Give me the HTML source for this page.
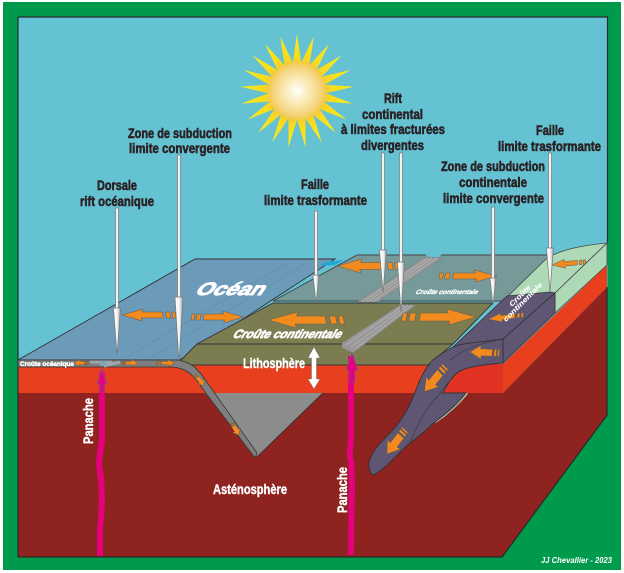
<!DOCTYPE html>
<html><head><meta charset="utf-8"><style>
html,body{margin:0;padding:0;background:#fff}
svg{display:block}
text{font-family:"Liberation Sans",sans-serif;font-weight:bold}
.k{fill:#2a2224;stroke:#2a2224;stroke-width:.55;font-size:13.5px}
.w{fill:#fff;stroke:#fff;stroke-width:.4;font-size:14px}
</style></head><body>
<svg width="624" height="573" viewBox="0 0 624 573" xmlns="http://www.w3.org/2000/svg">
<defs>
<radialGradient id="sun"><stop offset="0" stop-color="#fff"/><stop offset=".3" stop-color="#fcf1cc"/><stop offset=".75" stop-color="#f6da8c"/><stop offset="1" stop-color="#f3cb5c"/></radialGradient>
<linearGradient id="ray" x1="0" y1="0" x2="0" y2="1"><stop offset="0" stop-color="#f9ed20"/><stop offset=".65" stop-color="#f8dc1c"/><stop offset="1" stop-color="#f3c24a"/></linearGradient>
<linearGradient id="tip" x1="0" x2="1" y1="0" y2="0"><stop offset="0" stop-color="#fff"/><stop offset=".55" stop-color="#f4f4f4"/><stop offset="1" stop-color="#9a9a9a"/></linearGradient>
<polygon id="r" points="-5,-24 0,-57 5,-24" fill="url(#ray)"/>
<g id="a" fill="#f28a1e" stroke="#5c5a50" stroke-width=".5">
<polygon vector-effect="non-scaling-stroke" points="0,-5 6,-5 4,5 -2,5"/>
<polygon vector-effect="non-scaling-stroke" points="10,-5 18,-5 16,5 8,5"/>
<polygon vector-effect="non-scaling-stroke" points="24,-5 62,-5 60,-10 100,0 62,10 64,5 22,5"/>
</g>
</defs>
<rect x="3" y="2" width="618" height="568" fill="#009a4c"/>
<polygon points="18,17 607.500,17 607.500,300 503,370 18,370" fill="#65c2d3"/>
<path d="M18 17H608M18 17V360M607.500 17V243" fill="none" stroke="#2b2b2b" stroke-width="1.200"/>
<!-- body -->
<polygon points="18,393 503,393 607,287 607,415 502,557 18,557" fill="#8f231f"/>
<polygon points="18,364 503,364 607,265 607,287 503,393 18,393" fill="#e8401f"/>
<polygon points="503,364 503,393 443,393 457,373 480,365" fill="#e23224"/>
<path d="M18 557H502L607 415V287" fill="none" stroke="#2b2b2b" stroke-width="1.300"/>
<path d="M18 360V557" stroke="#2b2b2b" stroke-width="1.200"/>
<!-- ocean -->
<polygon points="18,360 195,259 335,259 180,360" fill="#6c9ab9" stroke="#333" stroke-width=".9"/>
<polygon points="325,262 343,260 336,265 321,266" fill="#22a7d3"/>
<path d="M125 358L290 262M150 358L305 264" stroke="#5f8cab" stroke-width=".6" fill="none"/>
<!-- grey plate -->
<polygon points="273,301 357,255 548,255 564,255 507,301" fill="#769a9a" stroke="#444" stroke-width=".9"/>
<polygon points="425,254 442,254 436,260 430,260" fill="#65c2d3"/>
<!-- olive -->
<polygon points="273,303 493,303 453,344 197,344" fill="#7b7c50" stroke="#333" stroke-width=".9"/>
<polygon points="197,344 453,344 428,365 178,365 180,361" fill="#7b7c50" stroke="#333" stroke-width=".9"/>
<!-- rift bars -->
<polygon points="357,302 378,302 442,258 425,257" fill="#989898" stroke="#777" stroke-width=".5"/>
<path d="M362 302L428 258M367 302L432 258M372 302L437 258" stroke="#b4b4b4" stroke-width=".8"/>
<polygon points="400,305 416,305 365,344 353,353 342,348 342,343" fill="#989898" stroke="#777" stroke-width=".5"/>
<path d="M346 345L404 305M351 347L408 305M356 348L412 305" stroke="#b4b4b4" stroke-width=".8"/>
<!-- light green block -->
<path d="M507 297L545 260C555 252 575 246 607 243L555 293Z" fill="#aed9b7" stroke="#444" stroke-width=".8"/>
<polygon points="555,293 607,243 607,265 555,313" fill="#aed9b7" stroke="#444" stroke-width=".8"/>
<path d="M435 422C447 414 458 404 467 393" fill="none" stroke="#aed9b7" stroke-width="2.500"/>
<!-- purple -->
<polygon points="507,296 550,292 555,293 503,339 453,347" fill="#5e5673" stroke="#333" stroke-width=".8"/>
<polygon points="503,339 555,293 555,313 503,363" fill="#5e5673" stroke="#333" stroke-width=".8"/>
<path d="M453 347C442 353 434 358 430 363C423 372 420 380 417 387C413 397 411 403 407 410C401 420 396 427 390 433C383 440 377 446 373 453C369 460 368 464 369 467C370 472 371 475 373 475C385 470 398 453 410 443C420 436 428 428 435 422C447 413 458 404 466 393H443C447 385 451 378 457 373C465 367 480 365 503 363V339C485 342 465 342 453 347Z" fill="#5e5673" stroke="#333" stroke-width=".9"/>
<path d="M503 339C480 343 462 350 450 360M457 373C445 385 440 395 430 405C422 415 416 428 410 443" fill="none" stroke="#333" stroke-width=".6"/>
<!-- oceanic crust and slab -->
<polygon points="205,393 323,393 258,456 255,457" fill="#8c8c8c"/>
<path d="M323 393L258 456L255 457" fill="none" stroke="#333" stroke-width=".9"/>
<path d="M18 360H176C190 361 197 368 204 378L257 453L255 458L202 388C194 375 186 368 172 367H18Z" fill="#7f7f7f" stroke="#333" stroke-width=".8"/>
<path d="M90 362L112 362M104 366L120 362" stroke="#9fa6a8" stroke-width="3"/>
<rect x="100" y="361" width="6" height="5" fill="#7fa5b8"/>
<!-- arrows -->
<use href="#a" transform="translate(175,315) scale(-.53,.6)"/>
<use href="#a" transform="translate(192,317) scale(.51,.6)"/>
<use href="#a" transform="translate(343,320) scale(-.75,.8)"/>
<use href="#a" transform="translate(403,317) scale(.73,.8)"/>
<use href="#a" transform="translate(398,266) scale(-.6,.7)"/>
<use href="#a" transform="translate(440,276) scale(.57,.6)"/>
<use href="#a" transform="translate(585,262) rotate(175) scale(.33,.45)"/>
<use href="#a" transform="translate(523,315) rotate(173) scale(.35,.45)"/>
<use href="#a" transform="translate(499,353) rotate(182) scale(.29,.7)"/>
<use href="#a" transform="translate(445,367) rotate(130) scale(.32,.8)"/>
<use href="#a" transform="translate(405,430) rotate(127) scale(.3,.8)"/>
<use href="#a" transform="translate(88,363) scale(-.14,.35)"/>
<use href="#a" transform="translate(122,363) scale(.16,.35)"/>
<use href="#a" transform="translate(157,363) scale(.18,.35)"/>
<use href="#a" transform="translate(195,375) rotate(48) scale(.14,.4)"/>
<use href="#a" transform="translate(232,423) rotate(60) scale(.14,.45)"/>
<!-- panaches -->
<path d="M102 372V440C100 455 98 462 100 472C103 490 102 510 100 530V556" fill="none" stroke="#e6007e" stroke-width="6"/>
<polygon points="102,368 107,384 104,384 104,392 100,392 100,384 97,384" fill="#e6007e" stroke="#7a5a80" stroke-width=".8"/>
<path d="M351 356V440C350 452 349 455 351 462C353 480 351 510 351 555" fill="none" stroke="#e6007e" stroke-width="6"/>
<polygon points="352,353 358,370 355,370 355,382 349,382 349,370 346,370" fill="#e6007e" stroke="#7a5a80" stroke-width=".8"/>
<!-- litho arrow -->
<polygon points="314,347 320,358 316.500,358 316.500,379 320,379 314,389 308,379 311.500,379 311.500,358 308,358" fill="#fff" stroke="#666" stroke-width=".4"/>
<!-- sun -->
<g transform="translate(297,91)">
<use href="#r"/><use href="#r" transform="rotate(17.14)"/><use href="#r" transform="rotate(34.29)"/><use href="#r" transform="rotate(51.43)"/><use href="#r" transform="rotate(68.57)"/><use href="#r" transform="rotate(85.71)"/><use href="#r" transform="rotate(102.86)"/><use href="#r" transform="rotate(120)"/><use href="#r" transform="rotate(137.14)"/><use href="#r" transform="rotate(154.29)"/><use href="#r" transform="rotate(171.43)"/><use href="#r" transform="rotate(188.57)"/><use href="#r" transform="rotate(205.71)"/><use href="#r" transform="rotate(222.86)"/><use href="#r" transform="rotate(240)"/><use href="#r" transform="rotate(257.14)"/><use href="#r" transform="rotate(274.29)"/><use href="#r" transform="rotate(291.43)"/><use href="#r" transform="rotate(308.57)"/><use href="#r" transform="rotate(325.71)"/><use href="#r" transform="rotate(342.86)"/>
<circle r="28" fill="url(#sun)"/>
</g>
<!-- pointers -->
<g stroke="#777" stroke-width=".7" fill="#f1f1f1">
<rect x="115.500" y="208" width="3" height="101"/><polygon points="113.500,308 120.500,308 117,355" fill="url(#tip)"/>
<rect x="177.500" y="155" width="3" height="143"/><polygon points="175,297 183,297 179,362" fill="url(#tip)"/>
<rect x="314.500" y="211" width="3" height="65"/><polygon points="313,275 319,275 316,303" fill="url(#tip)"/>
<rect x="381.500" y="153" width="3" height="98"/><polygon points="379.500,250 386.500,250 383,293" fill="url(#tip)"/>
<rect x="399.500" y="153" width="3" height="110"/><polygon points="397.500,262 404.500,262 401,312" fill="url(#tip)"/>
<rect x="491.500" y="207" width="3" height="72"/><polygon points="490,278 496,278 493,305" fill="url(#tip)"/>
<rect x="548.500" y="153" width="3" height="96"/><polygon points="546.500,248 553.500,248 550,292" fill="url(#tip)"/>
</g>
<!-- black labels -->
<text class="k" x="97" y="190" textLength="40" lengthAdjust="spacingAndGlyphs">Dorsale</text>
<text class="k" x="80" y="206" textLength="74" lengthAdjust="spacingAndGlyphs">rift océanique</text>
<text class="k" x="128" y="138" textLength="104" lengthAdjust="spacingAndGlyphs">Zone de subduction</text>
<text class="k" x="129" y="153" textLength="101" lengthAdjust="spacingAndGlyphs">limite convergente</text>
<text class="k" x="301" y="189" textLength="28" lengthAdjust="spacingAndGlyphs">Faille</text>
<text class="k" x="264" y="205" textLength="103" lengthAdjust="spacingAndGlyphs">limite trasformante</text>
<text class="k" x="384" y="103" textLength="18" lengthAdjust="spacingAndGlyphs">Rift</text>
<text class="k" x="362" y="119" textLength="61" lengthAdjust="spacingAndGlyphs">continental</text>
<text class="k" x="341" y="134" textLength="104" lengthAdjust="spacingAndGlyphs">à limites fracturées</text>
<text class="k" x="361" y="150" textLength="63" lengthAdjust="spacingAndGlyphs">divergentes</text>
<text class="k" x="536" y="135" textLength="28" lengthAdjust="spacingAndGlyphs">Faille</text>
<text class="k" x="498" y="151" textLength="103" lengthAdjust="spacingAndGlyphs">limite trasformante</text>
<text class="k" x="441" y="171" textLength="104" lengthAdjust="spacingAndGlyphs">Zone de subduction</text>
<text class="k" x="459" y="187" textLength="68" lengthAdjust="spacingAndGlyphs">continentale</text>
<text class="k" x="443" y="203" textLength="101" lengthAdjust="spacingAndGlyphs">limite convergente</text>
<!-- white labels -->
<text class="w" x="243" y="368" textLength="62" lengthAdjust="spacingAndGlyphs">Lithosphère</text>
<text class="w" x="213" y="494" textLength="74" lengthAdjust="spacingAndGlyphs">Asténosphère</text>
<text class="w" transform="translate(93,444) rotate(-90)" textLength="46" lengthAdjust="spacingAndGlyphs">Panache</text>
<text class="w" transform="translate(347,513) rotate(-90)" textLength="46" lengthAdjust="spacingAndGlyphs">Panache</text>
<text class="w" transform="translate(194,295) skewX(-35)" style="font-size:18px;stroke-width:.9" textLength="68" lengthAdjust="spacingAndGlyphs">Océan</text>
<text class="w" transform="translate(232,338) skewX(-30)" style="font-size:12px;stroke-width:.7" textLength="108" lengthAdjust="spacingAndGlyphs">Croûte continentale</text>
<text class="w" x="20" y="366" style="font-size:6.500px" textLength="54" lengthAdjust="spacingAndGlyphs">Croûte océanique</text>
<text class="w" transform="translate(415,294) skewX(-30)" style="font-size:6.500px;stroke-width:.3" textLength="62" lengthAdjust="spacingAndGlyphs">Croûte continentale</text>
<text class="w" transform="translate(512,307) rotate(-45)" style="font-size:7px;stroke-width:.1;font-style:italic" textLength="27" lengthAdjust="spacingAndGlyphs">Croûte</text>
<text class="w" transform="translate(506,322) rotate(-45)" style="font-size:7px;stroke-width:.1;font-style:italic" textLength="52" lengthAdjust="spacingAndGlyphs">continentale</text>
<text class="w" x="541" y="563" style="font-size:8.500px;font-style:italic;stroke-width:0" textLength="71" lengthAdjust="spacingAndGlyphs">JJ Chevallier - 2023</text>
</svg>
</body></html>
